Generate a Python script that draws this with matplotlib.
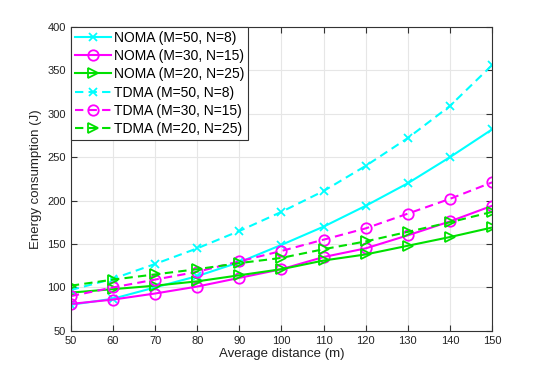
import matplotlib
matplotlib.use('Agg')
import matplotlib.pyplot as plt

plt.rcParams['font.family'] = ['Liberation Sans', 'DejaVu Sans']

distance = [50, 60, 70, 80, 90, 100, 110, 120, 130, 140, 150]

noma_50 = [80, 87, 100, 113, 129, 149, 170, 194, 220, 250, 282]
noma_30 = [81, 86, 93, 101, 111, 121, 135, 145, 160, 176, 194]
noma_20 = [94, 98, 102, 107, 114, 121, 131, 138, 148, 158, 169]
tdma_50 = [97, 110, 127, 145, 165, 187, 211, 240, 272, 309, 356]
tdma_30 = [90, 100, 109, 118, 130, 142, 155, 168, 185, 202, 221]
tdma_20 = [102, 109, 115, 121, 128, 134, 144, 153, 164, 175, 187]

series = [
    (noma_50, 'NOMA (M=50, N=8)', 'cyan', '-', 'x', 6),
    (noma_30, 'NOMA (M=30, N=15)', 'magenta', '-', 'o', 7.5),
    (noma_20, 'NOMA (M=20, N=25)', '#00e000', '-', '>', 7.5),
    (tdma_50, 'TDMA (M=50, N=8)', 'cyan', '--', 'x', 6),
    (tdma_30, 'TDMA (M=30, N=15)', 'magenta', '--', 'o', 7.5),
    (tdma_20, 'TDMA (M=20, N=25)', '#00e000', '--', '>', 7.5),
]

fig = plt.figure(figsize=(5.45, 3.73), dpi=100)
ax = fig.add_axes([0.130, 0.113, 0.773, 0.815])

for vals, label, col, ls, mk, ms in series:
    line, = ax.plot(distance, vals, color=col, linestyle=ls, marker=mk, markersize=ms,
                    markerfacecolor='none', markeredgewidth=1.3, linewidth=1.5, label=label)
    if ls == '--':
        line.set_dashes((4, 2.5))

ax.set_xlim(50, 150)
ax.set_ylim(50, 400)
ax.set_xticks(range(50, 151, 10))
ax.set_yticks(range(50, 401, 50))
ax.grid(True, color='#e6e6e6', linewidth=0.8)
ax.set_axisbelow(True)
ax.tick_params(direction='in', labelsize=8, length=4, color='#333333', top=True, right=True,
               labelcolor='#222222')
for s in ax.spines.values():
    s.set_color('#333333')
    s.set_linewidth(0.8)
ax.set_xlabel('Average distance (m)', fontsize=9.5, color='#222222', labelpad=2)
ax.set_ylabel('Energy consumption (J)', fontsize=9.5, color='#222222', labelpad=4)

leg = ax.legend(loc='upper left', fontsize=10, fancybox=False, framealpha=1,
                edgecolor='#333333', borderaxespad=0, handlelength=2.6,
                borderpad=0.3, labelspacing=0.3, handletextpad=0.2)
leg.get_frame().set_linewidth(0.8)

fig.savefig('out.png', dpi=100)
